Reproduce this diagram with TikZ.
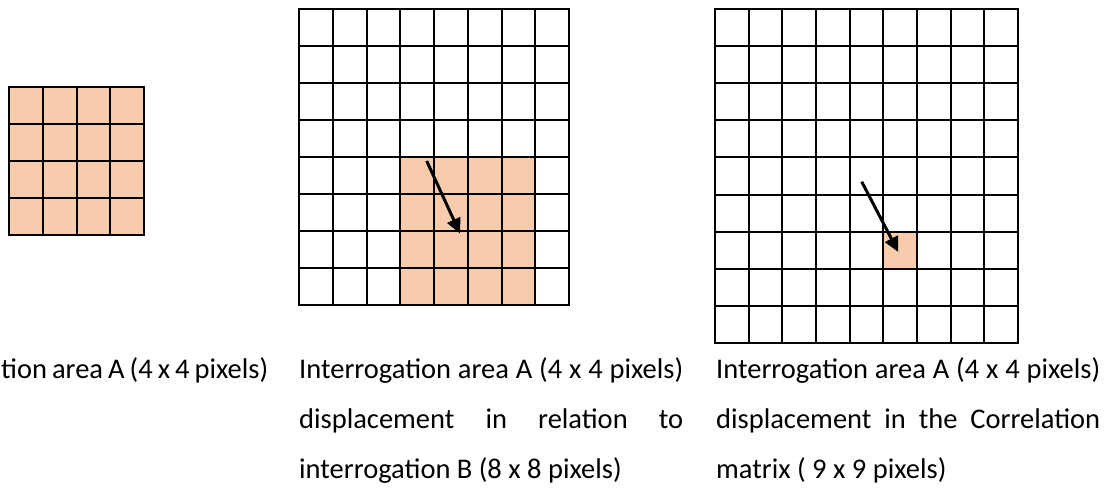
\documentclass[tikz,border=0pt]{standalone}
\usepackage{fontspec}
\setmainfont{Carlito}
\usetikzlibrary{arrows.meta}
\definecolor{peach}{HTML}{F8CBAD}
\newcommand\capfont{\fontsize{28.5}{34}\selectfont}
\newcommand\justline[1]{\makebox[384pt][s]{#1}}
\tikzset{
  gridline/.style={line width=2pt, draw=black, line cap=rect},
  cellfill/.style={fill=peach},
  disp/.style={line width=3pt, -{Triangle[length=15pt,width=14pt]}},
  captext/.style={inner sep=0pt, font=\capfont, anchor=base west}
}
\begin{document}
\begin{tikzpicture}[x=1pt,y=-1pt]
\useasboundingbox (0,0) rectangle (1110,490);
% ---- grid 1 (4 x 4, all filled)
\fill[cellfill] (9,87) rectangle (144,235);
\foreach \i in {0,...,4}{
  \draw[gridline] ({9+\i*33.75},87) -- ({9+\i*33.75},235);
  \draw[gridline] (9,{87+\i*37}) -- (144,{87+\i*37});
}
% ---- grid 2 (8 x 8)
\fill[cellfill] (400.25,157) rectangle (535.25,305);
\foreach \i in {0,...,8}{
  \draw[gridline] ({299+\i*33.75},9) -- ({299+\i*33.75},305);
  \draw[gridline] (299,{9+\i*37}) -- (569,{9+\i*37});
}
\coordinate (a2s) at (426.7,161);
\coordinate (a2e) at (460,233.5);
\draw[disp] (a2s) -- (a2e);
% ---- grid 3 (9 x 9)
\fill[cellfill] (883.3,231.7) rectangle (917,268.8);
\foreach \i in {0,...,9}{
  \draw[gridline] ({715+\i*33.667},9) -- ({715+\i*33.667},343);
  \draw[gridline] (715,{9+\i*37.111}) -- (1018,{9+\i*37.111});
}
\coordinate (a3s) at (861.7,181.7);
\coordinate (a3e) at (898.3,252);
\draw[disp] (a3s) -- (a3e);
% ---- captions
\node[captext] (c1l1) at (1,378) {\makebox[267pt][s]{tion area A (4 x 4 pixels)}};
\node[captext] (c2l1) at (299,378) {\justline{Interrogation area A (4 x 4 pixels)}};
\node[captext] (c2l2) at (299,428) {\justline{displacement in relation to}};
\node[captext] (c2l3) at (299,478) {interrogation B (8 x 8 pixels)};
\node[captext] (c3l1) at (716,378) {\justline{Interrogation area A (4 x 4 pixels)}};
\node[captext] (c3l2) at (716,428) {\justline{displacement in the Correlation}};
\node[captext] (c3l3) at (716,478) {matrix ( 9 x 9 pixels)};
\end{tikzpicture}
\end{document}
